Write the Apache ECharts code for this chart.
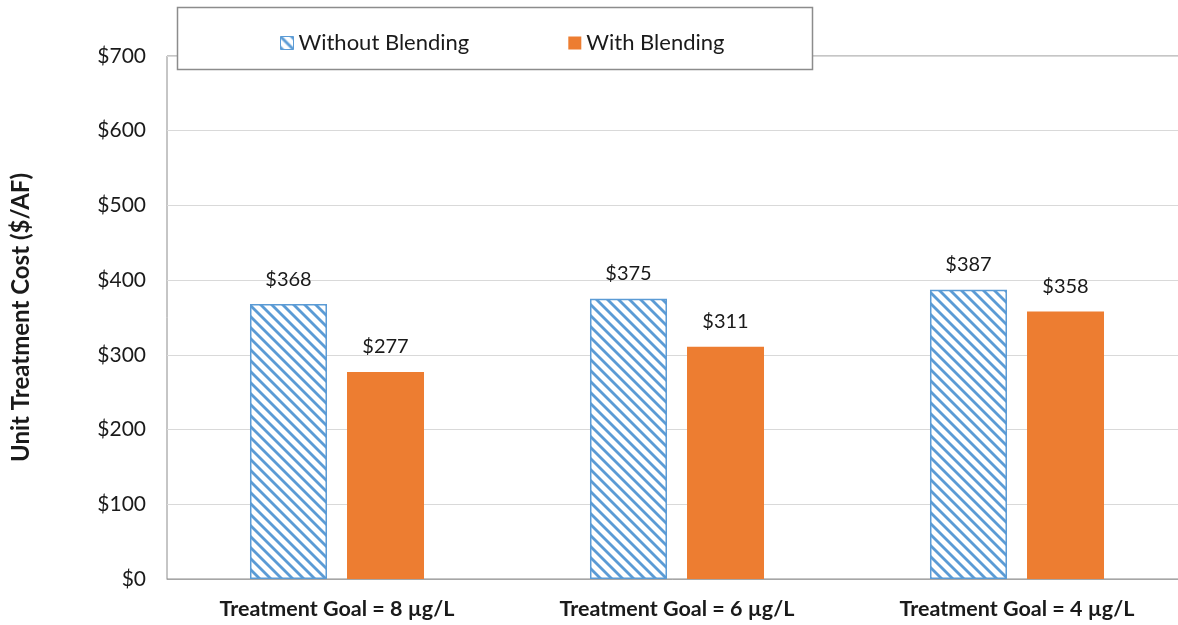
<!DOCTYPE html>
<html>
<head>
<meta charset="utf-8">
<script src="https://cdn.jsdelivr.net/npm/echarts@6/dist/echarts.min.js"></script>
<style>
  html, body { margin: 0; padding: 0; background: #ffffff; }
  #chart { width: 1178px; height: 625px; }
</style>
</head>
<body>
<div id="chart"></div>
<script>
// Chart data
const categories = ['Treatment Goal = 8 µg/L', 'Treatment Goal = 6 µg/L', 'Treatment Goal = 4 µg/L'];
const withoutBlending = [368, 375, 387];
const withBlending = [277, 311, 358];
const yTicks = [0, 100, 200, 300, 400, 500, 600, 700];

const FONT = 'Lato, "Open Sans", sans-serif';
const BLUE = '#5b9bd5';
const ORANGE = '#ed7d31';
const TEXT = '#1a1a1a';

// Diagonal hatch tile (top-left to bottom-right stripes)
function makeHatch() {
  const s = 11;
  const c = document.createElement('canvas');
  c.width = s; c.height = s;
  const ctx = c.getContext('2d');
  ctx.fillStyle = '#ffffff';
  ctx.fillRect(0, 0, s, s);
  ctx.strokeStyle = BLUE;
  ctx.lineWidth = 2.8;
  for (const x0 of [-s, 0, s]) {
    ctx.beginPath();
    ctx.moveTo(x0 - 1, -1);
    ctx.lineTo(x0 + s + 1, s + 1);
    ctx.stroke();
  }
  return c;
}
const hatch = { image: makeHatch(), repeat: 'repeat' };

const chart = echarts.init(document.getElementById('chart'), null, { renderer: 'canvas' });

const labelStyle = {
  show: true,
  position: 'top',
  distance: 15,
  fontFamily: FONT,
  fontSize: 20,
  color: TEXT,
  formatter: p => '$' + p.value
};

chart.setOption({
  animation: false,
  backgroundColor: '#ffffff',
  grid: {
    left: 167, right: -9, top: 56, bottom: 46,
    outerBoundsMode: 'none',
    containLabel: false,
    show: true,
    borderColor: '#8c8c8c',
    borderWidth: 1,
    backgroundColor: 'transparent'
  },
  graphic: [{
    type: 'rect',
    z: 100,
    shape: { x: 177.5, y: 7.5, width: 635, height: 62 },
    style: { fill: '#ffffff', stroke: '#8c8c8c', lineWidth: 1.5 }
  }],
  legend: {
    z: 101,
    left: 275,
    top: 27,
    icon: 'rect',
    itemWidth: 13,
    itemHeight: 13,
    itemGap: 99,
    textStyle: { fontFamily: FONT, fontSize: 22, color: TEXT, padding: [0, 0, 0, 0] },
    data: [
      { name: 'Without Blending', itemStyle: { color: hatch, borderColor: BLUE, borderWidth: 1 } },
      { name: 'With Blending', itemStyle: { color: ORANGE } }
    ]
  },
  xAxis: {
    type: 'category',
    data: categories,
    axisLine: { lineStyle: { color: '#a6a6a6', width: 1 } },
    axisTick: { show: false },
    axisLabel: {
      margin: 19,
      fontFamily: FONT,
      fontSize: 21.5,
      fontWeight: 'bold',
      color: TEXT
    }
  },
  yAxis: {
    type: 'value',
    min: yTicks[0],
    max: yTicks[yTicks.length - 1],
    interval: 100,
    name: 'Unit Treatment Cost ($/AF)',
    nameLocation: 'middle',
    nameGap: 134,
    nameTextStyle: { fontFamily: FONT, fontSize: 24, fontWeight: 'bold', color: TEXT },
    axisLine: { show: false },
    axisTick: { show: false },
    splitLine: { lineStyle: { color: '#d9d9d9', width: 1 } },
    axisLabel: {
      margin: 21,
      fontFamily: FONT,
      fontSize: 21,
      color: TEXT,
      formatter: v => '$' + v
    }
  },
  series: [
    {
      name: 'Without Blending',
      type: 'bar',
      data: withoutBlending,
      barWidth: 77,
      barGap: '26%',
      itemStyle: { color: hatch, borderColor: BLUE, borderWidth: 1.5 },
      label: labelStyle
    },
    {
      name: 'With Blending',
      type: 'bar',
      data: withBlending,
      barWidth: 77,
      barGap: '26%',
      itemStyle: { color: ORANGE },
      label: labelStyle
    }
  ]
});
</script>
</body>
</html>
